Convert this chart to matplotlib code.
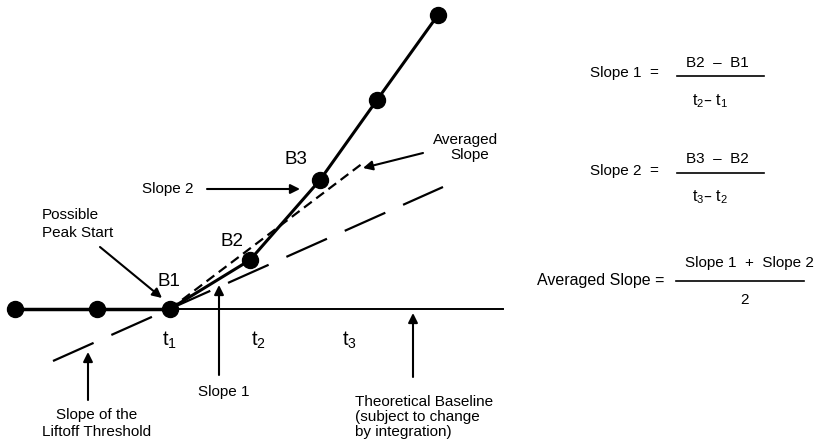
import matplotlib
matplotlib.use('Agg')
import matplotlib.pyplot as plt

plt.rcParams['font.family'] = ['Liberation Sans', 'DejaVu Sans']
plt.rcParams['mathtext.default'] = 'regular'
plt.rcParams['lines.scale_dashes'] = False

# sample points along the signal (pixel-like coordinates, y grows downward)
point_x = [15, 97, 170, 250, 320, 377, 438]
point_y = [309, 309, 309, 260, 180, 100, 15]

# reference lines
baseline_x = [170, 503]
baseline_y = [309, 309]
liftoff_x = [53, 443]
liftoff_y = [361, 187]
averaged_x = [170, 363]
averaged_y = [309, 163]

point_labels = ['B1', 'B2', 'B3']
point_label_xy = [(169, 281), (232, 241), (296, 160)]
time_labels = ['t$_1$', 't$_2$', 't$_3$']
time_label_x = [170, 258, 349]

fig = plt.figure(figsize=(8.24, 4.45), dpi=100)
ax = fig.add_axes([0, 0, 1, 1])
ax.set_xlim(0, 824)
ax.set_ylim(445, 0)
ax.axis('off')

# signal
ax.plot(point_x[:3], point_y[:3], color='black', lw=2.5, solid_capstyle='butt')
ax.plot(point_x[2:], point_y[2:], color='black', lw=2.2)
ax.plot(point_x, point_y, 'o', color='black', ms=11.5)

# baseline and slope lines
ax.plot(baseline_x, baseline_y, color='black', lw=1.4)
ax.plot(liftoff_x, liftoff_y, color='black', lw=1.6, dashes=(32, 14))
ax.plot(averaged_x, averaged_y, color='black', lw=1.6, dashes=(7, 4))

for lab, (x, y) in zip(point_labels, point_label_xy):
    ax.text(x, y, lab, fontsize=13.5, ha='center', va='center')
for lab, x in zip(time_labels, time_label_x):
    ax.text(x, 340, lab, fontsize=14.5, ha='center', va='center')

arrow = dict(arrowstyle='-|>', color='black', lw=1.5, mutation_scale=14,
             shrinkA=0, shrinkB=0)

ax.annotate('', xy=(162, 298), xytext=(100, 247), arrowprops=arrow)
ax.text(42, 215, 'Possible', fontsize=11, va='center')
ax.text(42, 233, 'Peak Start', fontsize=11, va='center')

ax.annotate('', xy=(300, 189), xytext=(207, 189), arrowprops=arrow)
ax.text(142, 189, 'Slope 2', fontsize=11, va='center')

ax.annotate('', xy=(363, 168), xytext=(423, 153), arrowprops=arrow)
ax.text(466, 140, 'Averaged', fontsize=11, ha='center', va='center')
ax.text(470, 155, 'Slope', fontsize=11, ha='center', va='center')

ax.annotate('', xy=(219, 285), xytext=(219, 375), arrowprops=arrow)
ax.text(224, 392, 'Slope 1', fontsize=11, ha='center', va='center')

ax.annotate('', xy=(88, 352), xytext=(88, 400), arrowprops=arrow)
ax.text(97, 415, 'Slope of the', fontsize=11, ha='center', va='center')
ax.text(97, 432, 'Liftoff Threshold', fontsize=11, ha='center', va='center')

ax.annotate('', xy=(413, 313), xytext=(413, 377), arrowprops=arrow)
ax.text(355, 402, 'Theoretical Baseline', fontsize=11, va='center')
ax.text(355, 417, '(subject to change', fontsize=11, va='center')
ax.text(355, 432, 'by integration)', fontsize=11, va='center')

# formulas
ax.text(590, 73, 'Slope 1  =', fontsize=11, va='center')
ax.text(717, 63, 'B2  \u2013  B1', fontsize=11, ha='center', va='center')
ax.plot([677, 764], [76, 76], color='black', lw=1.2)
ax.text(710, 101, 't$_2$\u2013 t$_1$', fontsize=11.5, ha='center', va='center')

ax.text(590, 171, 'Slope 2  =', fontsize=11, va='center')
ax.text(717, 159, 'B3  \u2013  B2', fontsize=11, ha='center', va='center')
ax.plot([677, 764], [173, 173], color='black', lw=1.2)
ax.text(710, 197, 't$_3$\u2013 t$_2$', fontsize=11.5, ha='center', va='center')

ax.text(537, 280, 'Averaged Slope =', fontsize=11.5, va='center')
ax.text(749, 263, 'Slope 1  +  Slope 2', fontsize=11, ha='center', va='center')
ax.plot([676, 804], [281, 281], color='black', lw=1.2)
ax.text(745, 300, '2', fontsize=11, ha='center', va='center')

fig.savefig('out.png', dpi=100)
